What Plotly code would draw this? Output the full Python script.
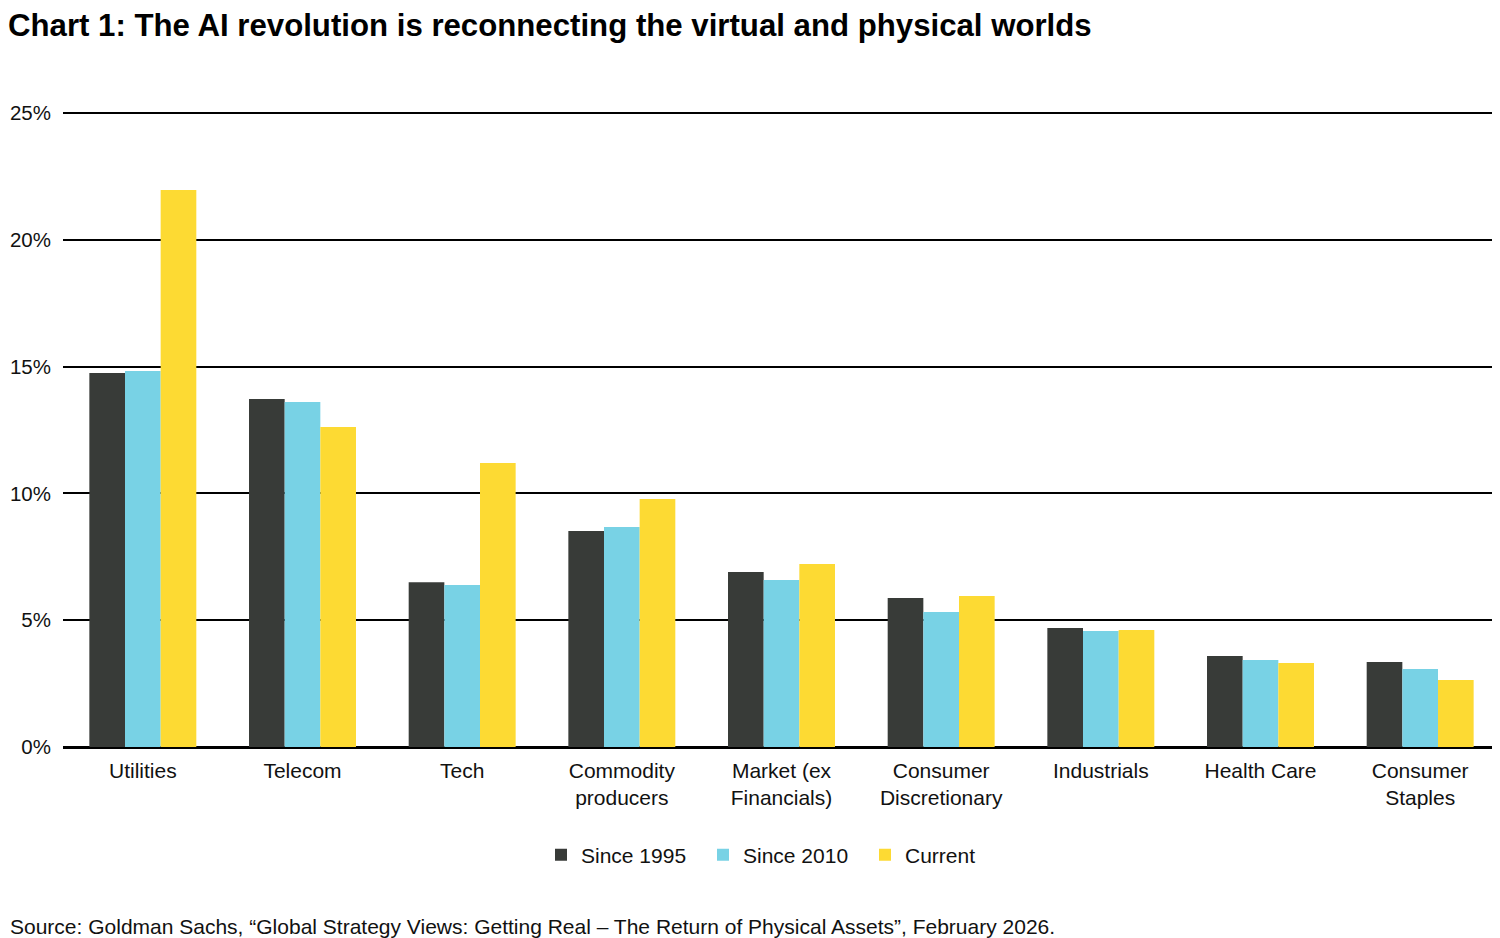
import plotly.graph_objects as go

categories = ["Utilities", "Telecom", "Tech", "Commodity<br>producers", "Market (ex<br>Financials)",
              "Consumer<br>Discretionary", "Industrials", "Health Care", "Consumer<br>Staples"]
since_1995 = [14.75, 13.72, 6.50, 8.52, 6.90, 5.88, 4.69, 3.59, 3.35]
since_2010 = [14.83, 13.60, 6.39, 8.68, 6.59, 5.32, 4.57, 3.43, 3.08]
current = [21.96, 12.62, 11.20, 9.78, 7.22, 5.95, 4.61, 3.31, 2.64]
tick_vals = [0, 5, 10, 15, 20, 25]
tick_text = ["0%", "5%", "10%", "15%", "20%", "25%"]

series = [("Since 1995", since_1995, "#383b38"),
          ("Since 2010", since_2010, "#78d2e5"),
          ("Current", current, "#fdda33")]

fig = go.Figure()
for name, vals, col in series:
    fig.add_trace(go.Bar(x=categories, y=vals, name=name, marker_color=col,
                         marker_line_width=0))

font = "Liberation Sans, Arial, sans-serif"
# page is offset by the 8px default body margin; compensate in figure coordinates
left, top, bottom = 55, 104, 739
fig.update_layout(
    width=1500, height=938,
    paper_bgcolor="white", plot_bgcolor="white",
    margin=dict(l=left, r=8, t=top, b=938 - bottom, pad=0, autoexpand=False),
    barmode="group", bargap=0.33, bargroupgap=0,
    font=dict(family=font, size=21, color="#111"),
    title=dict(text="<b>Chart 1: The AI revolution is reconnecting the virtual and physical worlds</b>",
               x=0.0, xanchor="left", xref="container", y=1 - 17 / 938, yanchor="middle",
               yref="container", pad=dict(l=0, t=0, b=0, r=0),
               font=dict(size=31.2, color="#000", family=font)),
    showlegend=True,
    legend=dict(orientation="h", x=533 / 1500, xanchor="left", xref="container",
                y=1 - 847 / 938, yanchor="middle", yref="container",
                font=dict(size=21, color="#111"), itemwidth=30, traceorder="normal",
                entrywidthmode="pixels", entrywidth=117),
    xaxis=dict(showgrid=False, showline=True, linecolor="#000", linewidth=1.5,
               ticks="", tickfont=dict(size=21, color="#111"), ticklabelstandoff=4,
               automargin=False),
    yaxis=dict(range=[0, 25.04], tickvals=tick_vals, ticktext=tick_text, showgrid=True,
               gridcolor="#000", gridwidth=1.5, zeroline=True, zerolinecolor="#000",
               zerolinewidth=1.5, showline=False, ticks="", automargin=False,
               tickfont=dict(size=20.5, color="#111"), ticklabelstandoff=11),
    annotations=[dict(text="Source: Goldman Sachs, “Global Strategy Views: Getting Real – The Return of Physical Assets”, February 2026.",
                      x=-left / (1500 - left - 8), xref="paper", xanchor="left",
                      y=-(918 - bottom) / (bottom - top), yref="paper", yanchor="middle",
                      showarrow=False, font=dict(size=21, color="#111"))],
)
fig.write_html("out.html")
